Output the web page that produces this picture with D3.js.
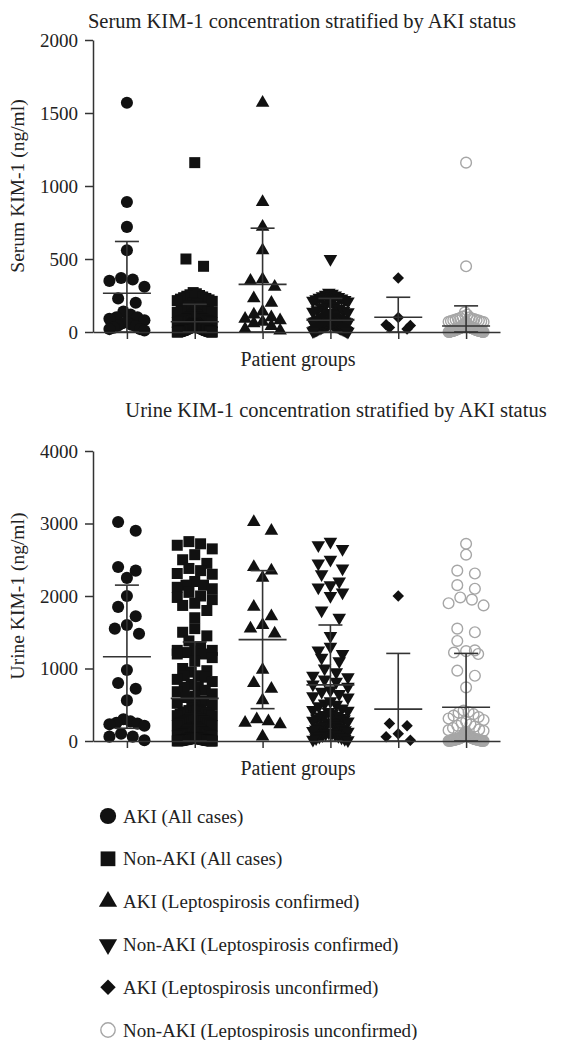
<!DOCTYPE html>
<html>
<head>
<meta charset="utf-8">
<script src="https://cdnjs.cloudflare.com/ajax/libs/d3/7.8.5/d3.min.js"></script>
<style>
  body { margin: 0; background: #fff; }
  text { font-family: "Liberation Serif", "DejaVu Serif", serif; fill: #222; }
</style>
</head>
<body>
<div class="kim-graph"></div>
<script>
// group names (also used for the legend)
var groups = ["AKI (All cases)", "Non-AKI (All cases)",
              "AKI (Leptospirosis confirmed)", "Non-AKI (Leptospirosis confirmed)",
              "AKI (Leptospirosis unconfirmed)", "Non-AKI (Leptospirosis unconfirmed)"];

// serum KIM-1 (ng/ml)
var serumAkiConf = [1570, 890, 720, 560, 360, 350, 310, 230, 200, 140, 120, 100, 90, 80, 70, 60, 40, 20, 10];
var serumAkiUnconf = [370, 100, 50, 45, 30, 20];
var serumNonAkiConf = [500, 270, 262, 255, 250, 245, 240, 235, 230, 225, 220, 215, 210, 200, 190, 180, 170, 160, 150, 145,
                       140, 135, 130, 125, 120, 115, 110, 105, 100, 98, 95, 92, 90, 88, 85, 82, 80, 78, 76, 74,
                       72, 70, 68, 66, 64, 62, 60, 58, 56, 54, 52, 50, 48, 46, 44, 42, 40, 38, 36, 34,
                       32, 30, 28, 26, 24, 22, 20, 18, 16, 14, 12, 10, 8, 5, 2];
var serumNonAkiUnconf = [1160, 450, 135, 118, 105, 100, 95, 92, 90, 88, 85, 82, 80, 78, 75, 72, 70, 68, 65, 62,
                         60, 58, 55, 52, 50, 48, 46, 44, 42, 40, 38, 36, 35, 34, 33, 32, 31, 30, 29, 28,
                         27, 26, 25, 24, 23, 22, 21, 20, 19, 18, 17, 16, 15, 14, 13, 12, 12, 11, 11, 10,
                         10, 9, 9, 8, 8, 7, 7, 6, 6, 5, 5, 4, 4, 3, 3, 2, 2, 1, 1, 0, 0, 15, 20, 25, 30];
// "all cases" groups are the confirmed + unconfirmed patients
var serumAkiAll = serumAkiConf.concat(serumAkiUnconf);
var serumNonAkiAll = serumNonAkiConf.concat(serumNonAkiUnconf);
var serumMean = [265, 70, 326, 80, 101, 41];
var serumSd = [355, 120, 385, 150, 137, 138];

// urine KIM-1 (ng/ml)
var urineAkiConf = [3020, 2900, 2400, 2350, 2250, 1850, 1720, 1600, 1550, 1480, 980, 800, 720, 560, 300, 270, 250, 230, 60];
var urineAkiUnconf = [2000, 240, 210, 100, 60, 10];
var urineNonAkiConf = [2750, 2700, 2650, 2500, 2450, 2380, 2300, 2200, 2150, 2120, 2050, 2000, 1800, 1700, 1450, 1300, 1250, 1200, 1150, 1100,
                       1000, 950, 900, 880, 850, 820, 780, 750, 700, 680, 650, 620, 600, 550, 500, 480, 450, 420, 400, 380,
                       350, 320, 300, 280, 260, 250, 220, 200, 180, 160, 150, 130, 120, 100, 90, 80, 60, 50, 30, 20,
                       10, 40, 70, 110, 140, 170, 190, 210, 240, 270, 310, 340, 360, 430, 520];
var urineNonAkiUnconf = [2720, 2570, 2350, 2310, 2150, 2100, 1980, 1950, 1900, 1870, 1550, 1500, 1380, 1250, 1240, 1220, 1200, 970, 900, 740,
                         420, 400, 390, 370, 350, 330, 310, 290, 270, 250, 230, 210, 200, 180, 160, 150, 140, 120, 110, 100,
                         95, 90, 85, 80, 75, 70, 65, 60, 55, 50, 45, 40, 35, 30, 28, 25, 22, 20, 18, 15,
                         12, 10, 8, 6, 5, 4, 3, 2, 1, 0, 5, 10, 15, 20, 25, 30, 35, 40, 45, 50, 12, 18, 22, 28, 8];
var urineAkiAll = urineAkiConf.concat(urineAkiUnconf);
var urineNonAkiAll = urineNonAkiConf.concat(urineNonAkiUnconf);
var urineMean = [1163, 588, 1398, 774, 440, 466];
var urineSd = [987, 778, 952, 826, 768, 742];

var serumTicks = [0, 500, 1000, 1500, 2000];
var urineTicks = [0, 1000, 2000, 3000, 4000];

// marker look for each group
var markers = [
  {type: d3.symbolCircle, size: 115, rot: 0, fill: "#111", stroke: "none"},
  {type: d3.symbolSquare, size: 121, rot: 0, fill: "#111", stroke: "none"},
  {type: d3.symbolTriangle, size: 80, rot: 0, fill: "#111", stroke: "none"},
  {type: d3.symbolTriangle, size: 80, rot: 180, fill: "#111", stroke: "none"},
  {type: d3.symbolSquare, size: 66, rot: 45, fill: "#111", stroke: "none"},
  {type: d3.symbolCircle, size: 90, rot: 0, fill: "none", stroke: "#a6a6a6"}
];

var width = 569, height = 1040;
var svg = d3.select(".kim-graph").append("svg")
    .attr("width", width)
    .attr("height", height);

// simple row based scatter, like the column scatter in the original
function swarm(values, y, size, maxW) {
  var pts = values.map(function(v) { return {v: v, py: y(v)}; })
                  .sort(function(a, b) { return a.py - b.py; });
  var rows = [], cur = null;
  pts.forEach(function(p) {
    if (!cur || p.py - cur.start > size * 0.9) { cur = {start: p.py, pts: []}; rows.push(cur); }
    cur.pts.push(p);
  });
  rows.forEach(function(r) {
    var k = r.pts.length;
    var gap = k === 2 ? size * 1.6 : size * 1.1;
    var step = k > 1 ? Math.min(gap, maxW / (k - 1)) : 0;
    var slots = d3.range(k).map(function(i) { return (i - (k - 1) / 2) * step; })
                  .sort(function(a, b) { return Math.abs(a) - Math.abs(b) || a - b; });
    r.pts.forEach(function(p, i) { p.dx = slots[i]; });
  });
  return pts;
}

function panel(o) {
  var y = d3.scaleLinear().domain([0, o.ticks[o.ticks.length - 1]]).range([o.y0, o.y1]);
  var x = d3.scalePoint().domain(groups).range([93, 500]).padding(0.5);
  var g = svg.append("g");

  // points
  o.data.forEach(function(vals, i) {
    var m = markers[i];
    var sym = d3.symbol().type(m.type).size(m.size);
    g.append("g").selectAll("path")
      .data(swarm(vals, y, 11, 35))
      .enter().append("path")
        .attr("d", sym)
        .attr("transform", function(d) {
          return "translate(" + (x(groups[i]) + d.dx) + "," + d.py + ") rotate(" + m.rot + ")";
        })
        .attr("fill", m.fill)
        .attr("stroke", m.stroke)
        .attr("stroke-width", 1.4);
  });

  // mean and SD bars
  var bars = g.append("g").attr("stroke", "#333").attr("stroke-width", 1.6);
  groups.forEach(function(name, i) {
    var cx = x(name), mean = o.mean[i];
    var hi = mean + o.sd[i], lo = Math.max(0, mean - o.sd[i]);
    bars.append("line").attr("x1", cx).attr("x2", cx).attr("y1", y(lo)).attr("y2", y(hi));
    bars.append("line").attr("x1", cx - 24).attr("x2", cx + 24).attr("y1", y(mean)).attr("y2", y(mean));
    [lo, hi].forEach(function(v) {
      bars.append("line").attr("x1", cx - 12).attr("x2", cx + 12).attr("y1", y(v)).attr("y2", y(v));
    });
  });

  // axes
  var yAxis = g.append("g")
      .attr("transform", "translate(93,0)")
      .call(d3.axisLeft(y).tickValues(o.ticks).tickFormat(d3.format("d"))
              .tickSize(8).tickSizeOuter(0).tickPadding(7));
  var xAxis = g.append("g")
      .attr("transform", "translate(0," + o.y0 + ")")
      .call(d3.axisBottom(x).tickSize(7).tickSizeOuter(0).tickFormat(""));
  [yAxis, xAxis].forEach(function(a) {
    a.selectAll("path, line").attr("stroke", "#333").attr("stroke-width", 1.5);
    a.selectAll("text").attr("font-family", "Liberation Serif").attr("font-size", 19).attr("fill", "#222");
  });

  g.append("text")
    .attr("x", o.titleX).attr("y", o.titleY)
    .attr("text-anchor", "middle").attr("font-size", 20.5)
    .text(o.title);
  g.append("text")
    .attr("x", 298).attr("y", o.y0 + 34)
    .attr("text-anchor", "middle").attr("font-size", 20)
    .text("Patient groups");
  g.append("text")
    .attr("transform", "translate(24," + (o.y0 + o.y1) / 2 + ") rotate(-90)")
    .attr("text-anchor", "middle").attr("font-size", 19.5)
    .text(o.label);
}

panel({
  data: [serumAkiAll, serumNonAkiAll, serumAkiConf, serumNonAkiConf, serumAkiUnconf, serumNonAkiUnconf],
  mean: serumMean, sd: serumSd, ticks: serumTicks,
  y0: 332, y1: 40, title: "Serum KIM-1 concentration stratified by AKI status",
  titleX: 302, titleY: 28, label: "Serum KIM-1 (ng/ml)"
});

panel({
  data: [urineAkiAll, urineNonAkiAll, urineAkiConf, urineNonAkiConf, urineAkiUnconf, urineNonAkiUnconf],
  mean: urineMean, sd: urineSd, ticks: urineTicks,
  y0: 741, y1: 451, title: "Urine KIM-1 concentration stratified by AKI status",
  titleX: 336, titleY: 417, label: "Urine KIM-1 (ng/ml)"
});

// legend
var legend = svg.append("g").attr("transform", "translate(0,816)");
groups.forEach(function(name, i) {
  var m = markers[i];
  var row = legend.append("g").attr("transform", "translate(0," + i * 42.8 + ")");
  row.append("path")
    .attr("d", d3.symbol().type(m.type).size(m.size * 1.8))
    .attr("transform", "translate(108,0) rotate(" + m.rot + ")")
    .attr("fill", m.fill)
    .attr("stroke", m.stroke)
    .attr("stroke-width", 1.4);
  row.append("text")
    .attr("x", 123).attr("dy", "0.35em")
    .attr("font-size", 19)
    .text(name);
});
</script>
</body>
</html>
